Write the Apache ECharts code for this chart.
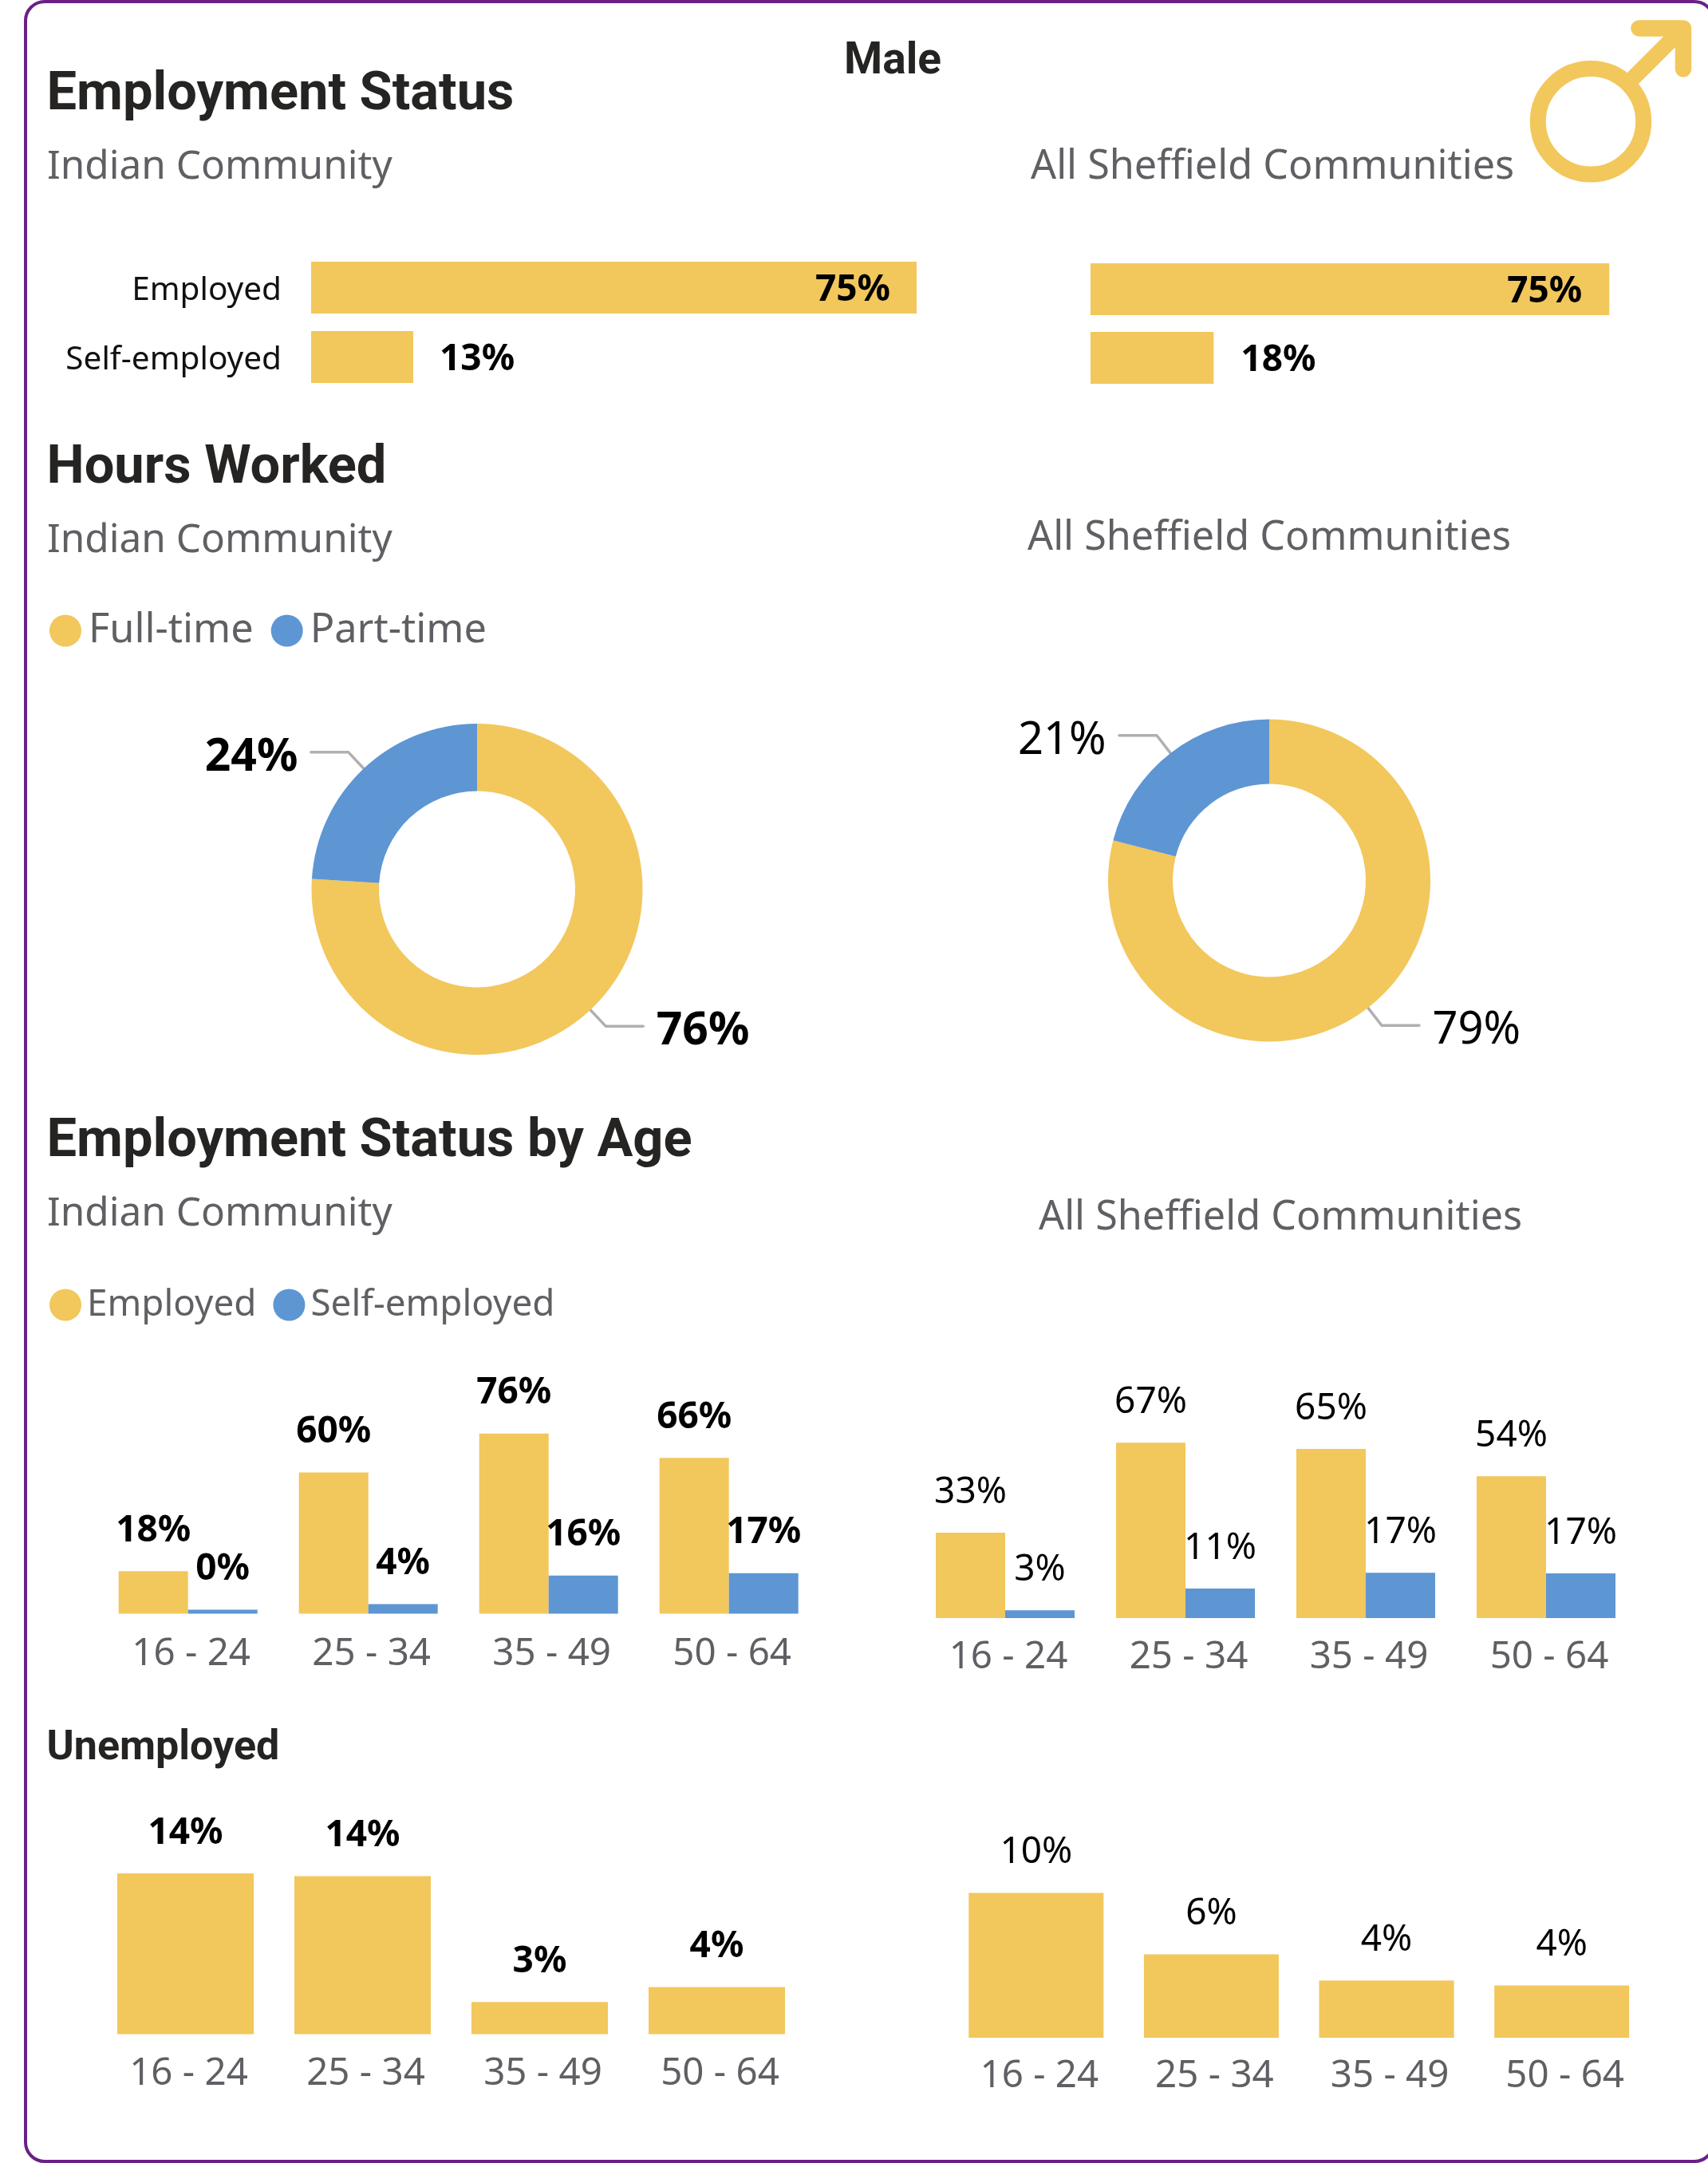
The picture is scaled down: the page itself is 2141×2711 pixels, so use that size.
<!DOCTYPE html>
<html><head><meta charset="utf-8">
<style>html,body{margin:0;padding:0;background:#fff}#c{width:2141px;height:2711px}</style>
<script src="https://cdn.jsdelivr.net/npm/echarts@6/dist/echarts.min.js"></script>
</head><body><div id="c"></div>
<script>
const statusCats = ['Employed','Self-employed'];
const statusIndian = [75, 12.65];
const statusSheffield = [75, 17.8];
const hoursCats = ['Full-time','Part-time'];
const hoursIndian = [76, 24];
const hoursSheffield = [79, 21];
const ages = ['16 - 24','25 - 34','35 - 49','50 - 64'];
const ageEmployedIndian = [17.9, 59.6, 76, 65.7];
const ageSelfIndian = [0, 4, 16.1, 17.1];
const ageEmployedSheffield = [32.6, 67, 64.6, 54.2];
const ageSelfSheffield = [3, 11.3, 17.3, 17.1];
const unempIndian = [14, 13.75, 2.8, 4.1];
const unempSheffield = [10, 5.76, 3.95, 3.61];

const YEL='#F2C75C', BLU='#5D96D3', GREY='#5F6064', DARK='#252423';
const BODY='"Noto Sans"', HEAD='Roboto';
const pct = p => Math.round(p.value)+'%';

function txt(text,x,y,size,opt){
  opt=opt||{};
  return {type:'text',x:x,y:y,silent:true,style:{text:text,fontFamily:opt.font||BODY,fontSize:size,fontWeight:opt.weight||'normal',
    fill:opt.color||GREY,align:opt.align||'left',verticalAlign:'middle'}};
}
const head = (t,x,y,s)=>txt(t,x,y,s||66.8,{font:HEAD,weight:'bold',color:DARK});

const grids=[
 {left:390,top:317,width:1012,height:174},
 {left:1367,top:319.5,width:693.6,height:172},
 {left:122.7,top:1725.5,width:904,height:297},
 {left:1147,top:1700,width:904,height:328},
 {left:121.5,top:2549.5-288,width:888,height:288},
 {left:1189,top:2554-181.4*1.6,width:878.5,height:181.4*1.6}
].map(g=>Object.assign({outerBoundsMode:'none'},g));
const xAxes=[],yAxes=[];
const tickMargins={2:27,3:25.5,4:26,5:24.5};
[0,1].forEach(i=>{
  xAxes.push({gridIndex:i,type:'value',min:0,max:i===0?100:80,show:false});
  yAxes.push({gridIndex:i,type:'category',inverse:true,data:statusCats,axisLine:{show:false},axisTick:{show:false},
    axisLabel:{show:i===0,fontFamily:BODY,fontSize:40.5,color:'#111',margin:37,interval:0,verticalAlign:'top',lineHeight:41,padding:[-17,0,0,0]}});
});
[2,3,4,5].forEach(i=>{
  xAxes.push({gridIndex:i,type:'category',data:ages,axisLine:{show:false},axisTick:{show:false},
    axisLabel:{fontFamily:BODY,fontSize:47.5,color:GREY,margin:tickMargins[i],interval:0,padding:[0,0,0,8],hideOverlap:false}});
  yAxes.push({gridIndex:i,type:'value',min:0,max:i===4?20:(i===5?16:100),show:false});
});
function statusBar(data,gi,dist1,dist2){
  return {type:'bar',xAxisIndex:gi,yAxisIndex:gi,barWidth:65,itemStyle:{color:YEL},silent:true,
    data:data.map(v=>({value:v,label:{position:v>50?'insideRight':'right',distance:v>50?dist1:dist2}})),
    label:{show:true,formatter:pct,fontFamily:BODY,fontWeight:'bold',fontSize:46,color:'#000',offset:[0,3.5]}};
}
function ageBar(name,data,gi,color,weight){
  return {type:'bar',name:name,xAxisIndex:gi,yAxisIndex:gi,barWidth:87,barGap:'0%',barMinHeight:5,silent:true,itemStyle:{color:color},data:data,
    label:{show:true,position:'top',distance:27.5,formatter:pct,fontFamily:BODY,fontWeight:weight,fontSize:46,color:'#000'}};
}
function unempBar(data,gi,w,weight){
  return {type:'bar',xAxisIndex:gi,yAxisIndex:gi,barWidth:w,silent:true,itemStyle:{color:YEL},data:data,
    label:{show:true,position:'top',distance:27.5,formatter:pct,fontFamily:BODY,fontWeight:weight,fontSize:46,color:'#000'}};
}
function donut(vals,center,radius,weight,size){
  return {type:'pie',center:center,radius:radius,silent:true,avoidLabelOverlap:false,
    data:hoursCats.map((n,i)=>({name:n,value:vals[i],itemStyle:{color:i?BLU:YEL}})),
    label:{show:true,position:'outside',formatter:'{c}%',fontFamily:BODY,fontWeight:weight,fontSize:size,color:'#000',distanceToLabelLine:16.5},
    labelLine:{show:true,length:28,length2:47,lineStyle:{color:'#B0B0B0',width:3.5,cap:'round',join:'round'}},
    labelLayout:p=>({dy:7,labelLinePoints:p.labelLinePoints})};
}
const legendText = (s,pt,pl)=>({fontFamily:BODY,fontSize:s,color:GREY,padding:[pt,0,0,pl]});

const option={
  animation:false,backgroundColor:'#fff',
  grid:grids,xAxis:xAxes,yAxis:yAxes,
  legend:[
    {data:hoursCats,left:62,top:765,icon:'circle',itemWidth:40,itemHeight:40,itemGap:22,padding:0,selectedMode:false,textStyle:legendText(50.5,9,4)},
    {data:['Employed','Self-employed'],left:62,top:1612.5,icon:'circle',itemWidth:40,itemHeight:40,itemGap:21,padding:0,selectedMode:false,textStyle:legendText(45.8,10,2)}
  ],
  series:[
    statusBar(statusIndian,0,33,33),
    statusBar(statusSheffield,1,34,34),
    donut(hoursIndian,[598,1114.5],[123,207.5],'bold',57),
    donut(hoursSheffield,[1591,1103.5],[121,202],'normal',56),
    ageBar('Employed',ageEmployedIndian,2,YEL,'bold'),
    ageBar('Self-employed',ageSelfIndian,2,BLU,'bold'),
    ageBar('Employed',ageEmployedSheffield,3,YEL,'normal'),
    ageBar('Self-employed',ageSelfSheffield,3,BLU,'normal'),
    unempBar(unempIndian,4,171,'bold'),
    unempBar(unempSheffield,5,169,'normal')
  ],
  graphic:{elements:[
    {type:'rect',silent:true,shape:{x:32,y:2,width:2116,height:2707,r:24},style:{fill:'none',stroke:'#6A2085',lineWidth:4}},
    txt('Male',1119,78,55,{font:HEAD,weight:'bold',color:DARK,align:'center'}),
    head('Employment Status',58.5,120),
    txt('Indian Community',59,209.5,49.5),
    txt('All Sheffield Communities',1292,209.5,50.3),
    head('Hours Worked',58.5,588),
    txt('Indian Community',59,677.5,49.5),
    txt('All Sheffield Communities',1288,674.5,50.3),
    head('Employment Status by Age',58.5,1432),
    txt('Indian Community',59,1521.5,49.5),
    txt('All Sheffield Communities',1302,1526.5,50.3),
    head('Unemployed',58.5,2192,52),
    {type:'circle',silent:true,shape:{cx:1994,cy:152.3,r:66.2},style:{fill:'none',stroke:YEL,lineWidth:20}},
    {type:'line',silent:true,shape:{x1:2046,y1:99,x2:2100,y2:45},style:{stroke:YEL,lineWidth:20}},
    {type:'polyline',silent:true,shape:{points:[[2054.5,35.4],[2110,35.4],[2110,86.5]]},style:{fill:'none',stroke:YEL,lineWidth:20.5,lineCap:'round',lineJoin:'round'}}
  ]}
};
const chart=echarts.init(document.getElementById('c'),null,{renderer:'canvas',width:2141,height:2711});
chart.setOption(option);
</script></body></html>
